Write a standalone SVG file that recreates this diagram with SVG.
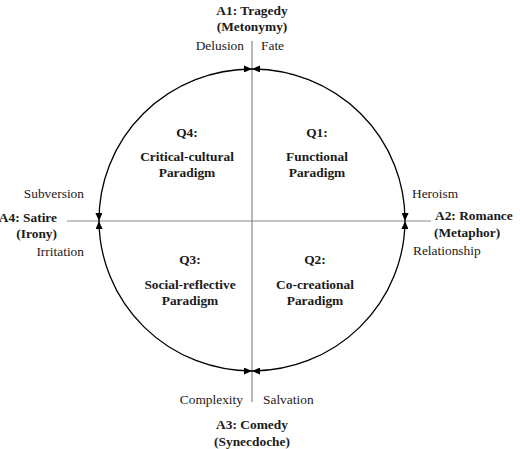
<svg xmlns="http://www.w3.org/2000/svg" width="520" height="449" viewBox="0 0 520 449">
<defs>
<marker id="ah" viewBox="0 0 8 7" refX="8" refY="3.5" markerWidth="8" markerHeight="7" markerUnits="userSpaceOnUse" orient="auto-start-reverse">
<path d="M0,0 L8,3.5 L0,7 z" fill="#000"/>
</marker>
<style>
.t{font-family:'Liberation Serif', 'Times New Roman', Times, serif;font-size:13.4px;fill:#1a1a1a}
.b{font-weight:bold}
.m{text-anchor:middle}
.e{text-anchor:end}
.axis{stroke:#888;stroke-width:1.2;fill:none}
.arc{stroke:#000;stroke-width:1.3;fill:none;marker-start:url(#ah);marker-end:url(#ah)}
</style>
</defs>
<rect width="520" height="449" fill="#fff"/>
<g id="connectors">
<line class="axis" x1="252" y1="41" x2="252" y2="402"/>
<line class="axis" x1="67" y1="221" x2="431" y2="221"/>
<path class="arc" d="M252,69 A153,151 0 0 1 405,221"/>
<path class="arc" d="M405,221 A153,151 0 0 1 252,371"/>
<path class="arc" d="M252,371 A153,151 0 0 1 99,221"/>
<path class="arc" d="M99,221 A153,151 0 0 1 252,69"/>
</g>
<g class="t" font-family="Liberation Serif, serif">
<g id="A1">
<text class="b m" x="252" y="15">A1: Tragedy</text>
<text class="b m" x="252" y="31">(Metonymy)</text>
<text class="e" x="244" y="50">Delusion</text>
<text x="261" y="50">Fate</text>
</g>
<g id="A2">
<text class="b" x="435" y="220">A2: Romance</text>
<text class="b" x="434" y="237">(Metaphor)</text>
<text x="412" y="198">Heroism</text>
<text x="413" y="255">Relationship</text>
</g>
<g id="A3">
<text class="e" x="243" y="404">Complexity</text>
<text x="263" y="404">Salvation</text>
<text class="b m" x="252" y="429">A3: Comedy</text>
<text class="b m" x="252" y="446">(Synecdoche)</text>
</g>
<g id="A4">
<text class="b e" x="57" y="222">A4: Satire</text>
<text class="b e" x="57" y="238">(Irony)</text>
<text class="e" x="84" y="198">Subversion</text>
<text class="e" x="84" y="256">Irritation</text>
</g>
<g id="Q1">
<text class="b m" x="317" y="137">Q1:</text>
<text class="b m" x="317" y="161">Functional</text>
<text class="b m" x="317" y="177">Paradigm</text>
</g>
<g id="Q2">
<text class="b m" x="315" y="264">Q2:</text>
<text class="b m" x="315" y="289">Co-creational</text>
<text class="b m" x="315" y="305">Paradigm</text>
</g>
<g id="Q3">
<text class="b m" x="190" y="264">Q3:</text>
<text class="b m" x="190" y="289">Social-reflective</text>
<text class="b m" x="190" y="305">Paradigm</text>
</g>
<g id="Q4">
<text class="b m" x="187" y="137">Q4:</text>
<text class="b m" x="187" y="161">Critical-cultural</text>
<text class="b m" x="187" y="177">Paradigm</text>
</g>
</g>
</svg>
